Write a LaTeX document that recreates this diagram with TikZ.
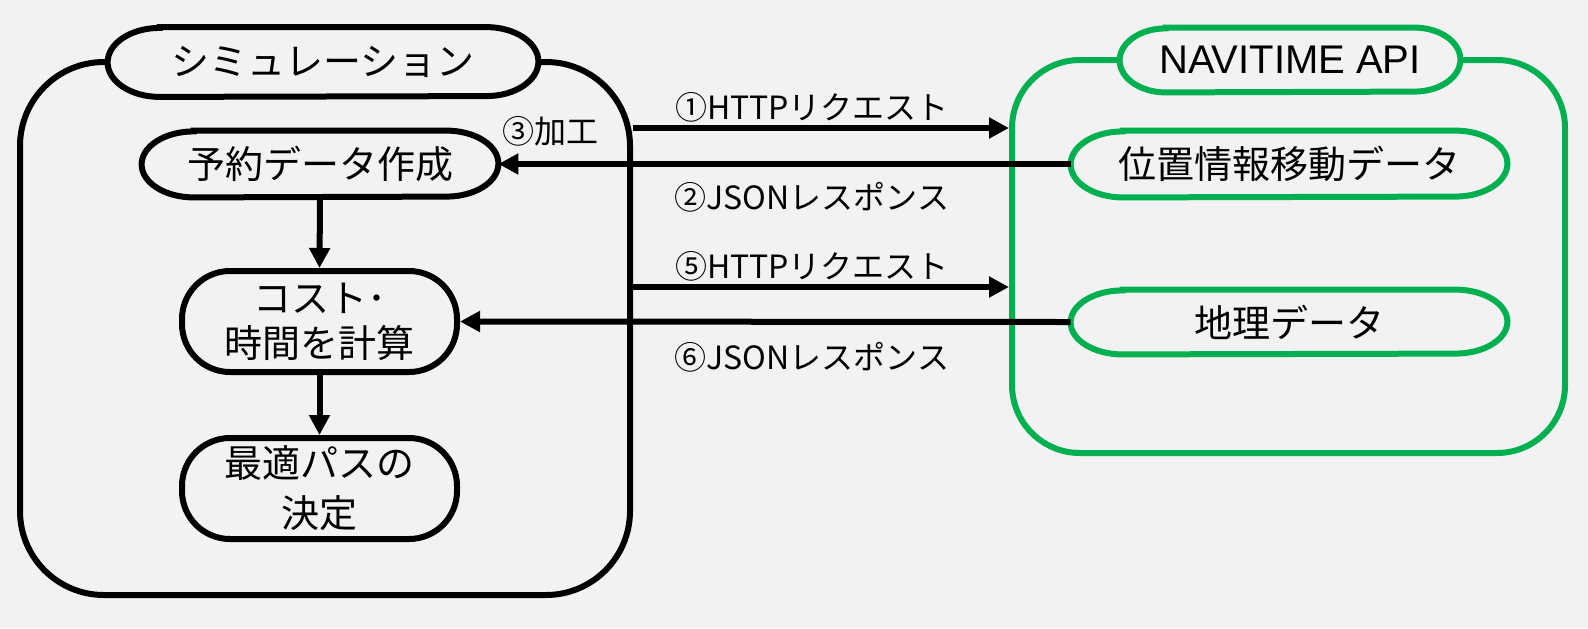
\documentclass[tikz,border=0pt]{standalone}
\usepackage{fontspec}
\setmainfont{Noto Sans CJK JP}
\newfontfamily\latinfont{Liberation Sans}
\usetikzlibrary{arrows.meta,backgrounds}
\definecolor{bgc}{HTML}{F2F2F2}
\definecolor{grn}{HTML}{00B050}
\newcommand\ovalpath[3]{%
  ([xshift=#2]#1.north west) -- ([xshift=-#2]#1.north east)
  arc[start angle=90,end angle=-90,x radius=#2,y radius=#3]
  -- ([xshift=#2]#1.south west)
  arc[start angle=270,end angle=90,x radius=#2,y radius=#3] -- cycle}
\begin{document}
\begin{tikzpicture}[x=0.5pt,y=-0.5pt,
  txt/.style={inner sep=0pt,font=\fontsize{19}{22.5}\selectfont,align=center},
  lbl/.style={inner sep=0pt,font=\fontsize{16}{19}\selectfont},
  oval/.style={txt,minimum height=33pt},
  boxk/.style={draw=black,line width=3pt,fill=bgc},
  boxg/.style={draw=grn,line width=3pt,fill=bgc},
  arr/.style={line width=3pt,-{Triangle[length=10pt,width=10pt]}},
]
\useasboundingbox (0,0) rectangle (1588,628);
% text nodes
\node[txt,minimum width=215pt,minimum height=34.5pt] (simt) at (323,62) {シミュレーション};
\node[oval,minimum width=178pt] (yoy) at (320,164) {予約データ作成};
\node[txt,boxk,rounded corners=24pt,minimum width=137.5pt,minimum height=50.5pt] (cost) at (319.5,321.5) {コスト･\\時間を計算};
\node[txt,boxk,rounded corners=24pt,minimum width=137.5pt,minimum height=50.5pt,font=\fontsize{19}{25}\selectfont] (opt) at (319.5,488.5) {最適パスの\\決定};
\node[txt,minimum width=170pt,minimum height=32pt,font=\latinfont\fontsize{20}{24}\selectfont] (navt) at (1290,60) {NAVITIME API};
\node[oval,minimum width=218pt] (ichi) at (1289,164) {位置情報移動データ};
\node[oval,minimum width=218pt,minimum height=32pt] (chiri) at (1289,322) {地理データ};
% shapes behind
\begin{scope}[on background layer]
  \fill[bgc] (0,0) rectangle (1588,628);
  \node[draw=black,line width=3pt,rounded corners=42pt,minimum width=305pt,minimum height=266.5pt] (simc) at (325,328.5) {};
  \node[draw=grn,line width=3pt,rounded corners=34pt,minimum width=276.5pt,minimum height=196.5pt] (navc) at (1288.5,256.5) {};
  \draw[boxk] \ovalpath{simt}{26pt}{17.25pt};
  \draw[boxk] \ovalpath{yoy}{26pt}{16.5pt};
  \draw[boxg] \ovalpath{navt}{23pt}{16pt};
  \draw[boxg] \ovalpath{ichi}{26pt}{16.5pt};
  \draw[boxg] \ovalpath{chiri}{26pt}{16pt};
\end{scope}
% connectors
\coordinate (y1) at (0,128);
\coordinate (y5) at (0,287);
\draw[arr] (simc.east |- y1) -- (navc.west |- y1);
\draw[arr] (ichi.west) -- (yoy.east);
\draw[arr] (yoy.south) -- (cost.north);
\draw[arr] (cost.south) -- (opt.north);
\draw[arr] (simc.east |- y5) -- (navc.west |- y5);
\draw[arr] (chiri.west) -- (cost.east);
% labels
\node[lbl] (l1) at (812,107) {①HTTPリクエスト};
\node[lbl] (l2) at (812,197) {②JSONレスポンス};
\node[lbl] (l3) at (550,131) {③加工};
\node[lbl] (l5) at (812,266) {⑤HTTPリクエスト};
\node[lbl] (l6) at (812,357) {⑥JSONレスポンス};
\end{tikzpicture}
\end{document}
